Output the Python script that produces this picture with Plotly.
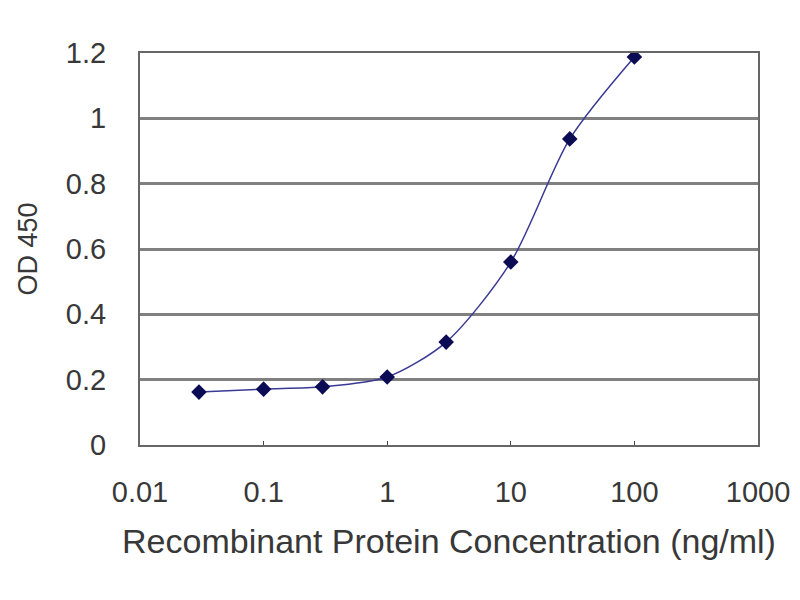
import plotly.graph_objects as go

# Concentration (ng/ml) and OD 450 readings
conc = [0.03, 0.1, 0.3, 1, 3, 10, 30, 100]
od450 = [0.162, 0.171, 0.178, 0.208, 0.315, 0.560, 0.937, 1.188]

x_ticks = [0.01, 0.1, 1, 10, 100, 1000]
x_labels = ["0.01", "0.1", "1", "10", "100", "1000"]
y_ticks = [0, 0.2, 0.4, 0.6, 0.8, 1, 1.2]
y_labels = ["0", "0.2", "0.4", "0.6", "0.8", "1", "1.2"]

trace = go.Scatter(
    x=conc, y=od450, mode="lines+markers",
    line=dict(color="#3a3a96", width=1.5, shape="spline", smoothing=0.8),
    marker=dict(symbol="diamond", size=12, color="#0c0c55"),
    showlegend=False,
)

# page body adds an 8px offset, so margins are shifted to compensate
layout = go.Layout(
    width=800, height=600,
    paper_bgcolor="white", plot_bgcolor="white",
    margin=dict(l=132, r=50, t=45, b=163),
    font=dict(family="Liberation Sans, Arial, sans-serif", color="#383838"),
    xaxis=dict(
        type="log", range=[-2, 3],
        tickvals=x_ticks, ticktext=x_labels,
        tickfont=dict(size=29), ticks="inside", ticklen=4, tickcolor="#444444",
        ticklabelstandoff=20,
        showgrid=False, zeroline=False,
        showline=True, linecolor="#666666", linewidth=2, mirror=True,
        title=dict(text="Recombinant Protein Concentration (ng/ml)",
                   font=dict(size=34), standoff=22),
    ),
    yaxis=dict(
        range=[0, 1.2],
        tickvals=y_ticks, ticktext=y_labels,
        tickfont=dict(size=29), ticks="", ticklabelstandoff=26,
        showgrid=True, gridcolor="#808080", gridwidth=2.5, zeroline=False,
        showline=True, linecolor="#666666", linewidth=2, mirror=True,
        title=dict(text="OD 450", font=dict(size=27), standoff=20),
    ),
)

fig = go.Figure(data=[trace], layout=layout)
fig.write_html("out.html")
